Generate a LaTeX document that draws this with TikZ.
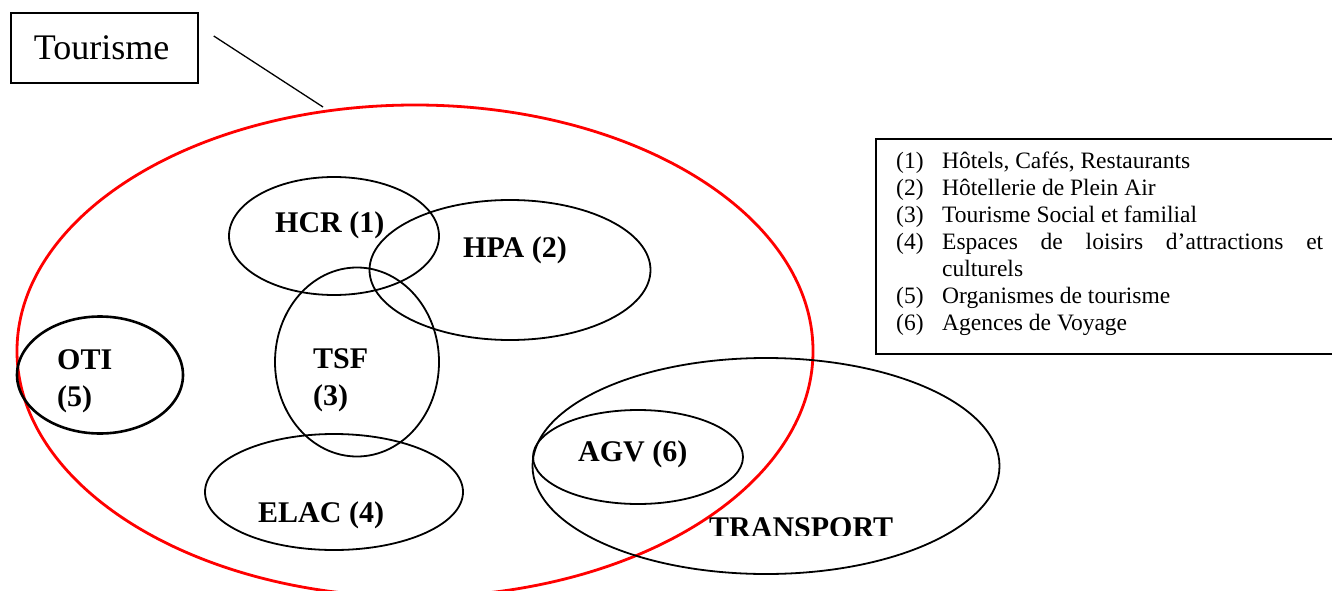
\documentclass[tikz,border=0pt]{standalone}
\usepackage{fontspec}
\setmainfont{Liberation Serif}
\usetikzlibrary{shapes.geometric}

\tikzset{
  set/.style={ellipse, draw, line width=1.8pt, inner sep=0pt},
  setlabel/.style={anchor=base west, inner sep=0pt, align=left,
    font=\bfseries\fontsize{30}{37}\selectfont},
}

\begin{document}
\begin{tikzpicture}[x=1pt,y=-1pt]
\useasboundingbox (0,0) rectangle (1332,591);
\clip (0,0) rectangle (1332,591);

\node[rectangle, draw, line width=1.5pt,
          minimum width=187pt, minimum height=70pt,
          font=\fontsize{36}{42}\selectfont] (title) at (104.5,48)
          {\hspace*{-6pt}Tourisme};

\node[set, draw=red, line width=2.8pt,
          minimum width=796pt, minimum height=492pt] (tourisme) at (415,351) {};

\coordinate (pin) at (323,107);
\draw[line width=1.3pt] ([shift={(15pt,12pt)}]title.east) -- (pin);

\node[set, minimum width=210pt, minimum height=118pt] (hcr) at (334,236) {};
\node[set, minimum width=281pt, minimum height=140pt] (hpa) at (510,270) {};
\node[set, minimum width=164pt, minimum height=189pt] (tsf) at (357,362) {};
\node[set, line width=2.6pt,
          minimum width=166pt, minimum height=117pt] (oti) at (100,375) {};
\node[set, minimum width=258pt, minimum height=116pt] (elac) at (334,492) {};
\node[set, minimum width=467pt, minimum height=216pt] (transport) at (766,466) {};
\node[set, minimum width=210pt, minimum height=94pt] (agv) at (638,457) {};

% base of a two-line label sits on its last line
\node[setlabel] (hcrtxt) at (275,232) {HCR (1)};
\node[setlabel] (hpatxt) at (463,257) {HPA (2)};
\node[setlabel] (otitxt) at (57,406) {OTI\\(5)};
\node[setlabel] (tsftxt) at (313,405) {TSF\\(3)};
\node[setlabel] (elactxt) at (258,522) {ELAC (4)};
\node[setlabel] (agvtxt) at (578,461) {AGV (6)};
\begin{scope}
\clip (700,500) rectangle (920,535);
\node[setlabel] (transporttxt) at (709,537) {TRANSPORT};
\end{scope}

\node[rectangle, draw, line width=1.6pt, anchor=north west,
          minimum width=480pt, minimum height=215pt] (legend) at (875,138) {};
\node[anchor=base west, inner sep=0pt, align=left,
          font=\fontsize{23.5}{27}\selectfont] (items) at (896,330)
  {\makebox[46pt][l]{(1)}Hôtels, Cafés, Restaurants\\
   \makebox[46pt][l]{(2)}Hôtellerie de Plein Air\\
   \makebox[46pt][l]{(3)}Tourisme Social et familial\\
   \makebox[46pt][l]{(4)}\makebox[381pt][s]{Espaces de loisirs d’attractions et}\\
   \hspace*{46pt}culturels\\
   \makebox[46pt][l]{(5)}Organismes de tourisme\\
   \makebox[46pt][l]{(6)}Agences de Voyage};
\end{tikzpicture}
\end{document}
